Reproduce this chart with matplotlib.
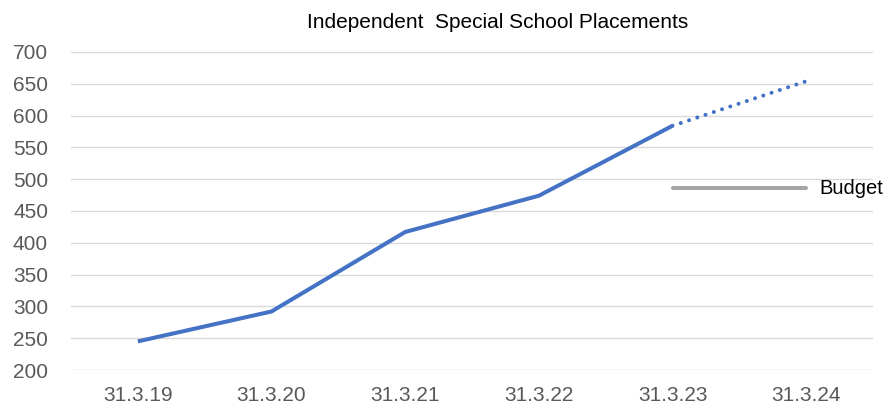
import matplotlib.pyplot as plt
import numpy as np

plt.rcParams['font.family'] = ['Liberation Sans', 'DejaVu Sans']

dates = ["31.3.19", "31.3.20", "31.3.21", "31.3.22", "31.3.23", "31.3.24"]
placements = [245, 292, 417, 474, 584, 654]
n_actual = 5  # last point is a forecast (dotted)
budget = 486
budget_span = ["31.3.23", "31.3.24"]

fig = plt.figure(figsize=(8.89, 4.05), dpi=100)
ax = fig.add_axes([71/889, 1-370/405, (873-71)/889, (370-52)/405])

x = np.arange(len(dates))
ax.plot(x[:n_actual], placements[:n_actual], color="#4472C4", linewidth=2.9,
        solid_capstyle="butt", zorder=3)
ax.plot(x[n_actual-1:], placements[n_actual-1:], color="#4472C4", linewidth=2.9,
        linestyle=(0, (0.01, 2.15)), dash_capstyle="round", zorder=3)

bx = [dates.index(d) for d in budget_span]
ax.plot(bx, [budget, budget], color="#A5A5A5", linewidth=2.9, solid_capstyle="round", zorder=3)
ax.text(bx[1] + 0.1, budget, "Budget", fontsize=14.5, va="center", ha="left", color="black")

ax.set_xlim(-0.5, len(dates)-0.5)
ax.set_ylim(200, 700)
ax.set_yticks(np.arange(200, 701, 50))
ax.set_xticks(x)
ax.set_xticklabels(dates)
ax.grid(axis="y", color="#D9D9D9", linewidth=1)
ax.set_axisbelow(True)
for s in ax.spines.values():
    s.set_visible(False)
ax.tick_params(length=0, labelsize=15, labelcolor="#595959")
ax.tick_params(axis="y", pad=16.5)
ax.tick_params(axis="x", pad=11.5)

fig.text(498/889, 1-22/405, "Independent  Special School Placements", ha="center", va="center", fontsize=15)

fig.savefig("out.png", dpi=100)
